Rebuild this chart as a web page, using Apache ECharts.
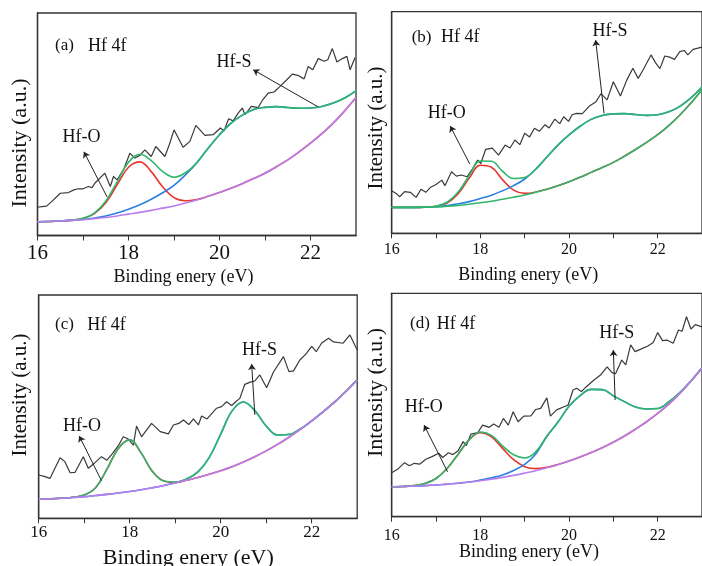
<!DOCTYPE html>
<html>
<head>
<meta charset="utf-8">
<script src="https://cdn.jsdelivr.net/npm/echarts@6/dist/echarts.min.js"></script>
<style>
html, body { margin: 0; padding: 0; background: #fff; }
#main { width: 702px; height: 566px; }
</style>
</head>
<body>
<div id="main"></div>
<script>
var serif = "'Liberation Serif', 'Times New Roman', serif"

// x grid of the fitted curves (eV)
var fitX = [16, 16.25, 16.5, 16.75, 17, 17.25, 17.5, 17.75, 18, 18.25, 18.5, 18.75, 19, 19.25, 19.5,
    19.75, 20, 20.25, 20.5, 20.75, 21, 21.25, 21.5, 21.75, 22, 22.25, 22.5, 22.75, 23]

// (a) background, Hf-O and Hf-S components above background, raw spectrum
var baseA = [6.2, 6.3, 6.5, 6.8, 7.1, 7.6, 8.1, 8.8, 9.6, 10.4, 11.3, 12.3, 13.3, 14.6, 16.0,
    17.6, 19.3, 21.2, 23.3, 25.6, 28, 30.9, 34, 37.6, 41.5, 45.8, 50.5, 56, 62]
var hfoA = [0, 0, 0, 0.1, 0.5, 2.2, 6.6, 14, 21.1, 22.7, 17.4, 9.6, 3.7, 1.0, 0.2,
    0, 0, 0, 0, 0, 0, 0, 0, 0, 0, 0, 0, 0, 0]
var hfsA = [0, 0, 0, 0, 0.1, 0.3, 0.7, 1.3, 2.2, 3.4, 5, 6.9, 9.2, 12.6, 16.6,
    21.6, 26, 29.2, 30.8, 31, 29.6, 27, 23.5, 19.6, 15.8, 12.2, 9, 5.8, 3]
var rawA = [[16.0, 12.7], [16.1, 13], [16.2, 13.2], [16.35, 16], [16.5, 19], [16.68, 19.3], [16.8, 20.5],
    [16.9, 21], [17.0, 21], [17.12, 22], [17.2, 21.5], [17.26, 23.5], [17.48, 28], [17.6, 22], [17.67, 26.5],
    [17.75, 25], [17.9, 30], [18.03, 37], [18.14, 34.8], [18.25, 36], [18.36, 38.5], [18.5, 35.5], [18.6, 40],
    [18.8, 35.5], [18.9, 41], [19.0, 47.5], [19.2, 39.7], [19.35, 42.3], [19.48, 49.5], [19.68, 45],
    [19.86, 45.3], [20.02, 48.3], [20.1, 47], [20.2, 52.5], [20.3, 51.5], [20.41, 55], [20.5, 57.3],
    [20.56, 54.3], [20.7, 58], [20.85, 57.5], [20.95, 61], [21.07, 64], [21.2, 64.5], [21.33, 67],
    [21.48, 70], [21.6, 72.5], [21.72, 72], [21.86, 70.4], [21.95, 76], [22.05, 74.5], [22.17, 79.5],
    [22.3, 78.3], [22.38, 79], [22.48, 84], [22.58, 78], [22.7, 79.5], [22.8, 80.5], [22.87, 74.5], [22.98, 80]]

// (b)
var baseB = [11.7, 11.7, 11.7, 11.8, 11.9, 12.2, 12.6, 13.1, 13.8, 14.5, 15.4, 16.3, 17.3, 18.5, 19.9,
    21.5, 23.3, 25.3, 27.5, 29.7, 32, 34.8, 37.8, 41, 44.5, 48.6, 53.4, 58.8, 64.8]
var hfoB = [0, 0, 0, 0, 0.3, 1.5, 5.3, 11.8, 16.9, 15.3, 8.8, 3.2, 0.7, 0.1, 0,
    0, 0, 0, 0, 0, 0, 0, 0, 0, 0, 0, 0, 0, 0]
var hfsB = [0, 0, 0, 0, 0.1, 0.3, 0.7, 1.2, 1.9, 2.7, 3.8, 5.2, 7.2, 10.4, 14.5,
    18.3, 21.1, 23, 23.9, 23.5, 21.9, 19.2, 15.8, 12.2, 9, 6.2, 3.9, 2.3, 1.2]
var rawB = [[16.0, 19.2], [16.1, 18], [16.18, 16.5], [16.29, 18.8], [16.42, 18.5], [16.55, 16.2], [16.66, 19.9],
    [16.77, 18.5], [16.88, 20.8], [17.0, 22], [17.13, 24], [17.2, 21.5], [17.35, 27.8], [17.46, 25.8],
    [17.57, 26.3], [17.7, 25.5], [17.83, 29.3], [17.94, 33], [18.01, 31.5], [18.12, 37.9], [18.27, 38.4],
    [18.41, 35.3], [18.56, 39.8], [18.67, 38.5], [18.78, 42.1], [18.89, 40], [19.0, 45.1], [19.11, 43.5],
    [19.22, 47.4], [19.33, 46], [19.46, 49], [19.55, 47.5], [19.68, 51.5], [19.79, 49.5], [19.88, 52.6],
    [19.99, 50.5], [20.07, 53.5], [20.17, 54.1], [20.3, 54], [20.46, 57.4], [20.61, 59.4], [20.72, 63],
    [20.86, 60.2], [21.0, 68.4], [21.16, 62], [21.3, 69], [21.44, 74.5], [21.56, 69.9], [21.67, 73.7],
    [21.85, 80.5], [21.95, 77], [22.05, 74.3], [22.16, 80], [22.27, 79.5], [22.38, 78.5], [22.5, 82],
    [22.6, 82.5], [22.68, 80.5], [22.8, 83], [23.0, 84]]

// (c)
var baseC = [8.5, 8.7, 9.0, 9.3, 9.7, 10.2, 10.7, 11.3, 12.0, 12.8, 13.7, 14.7, 15.8, 17.0, 18.3,
    19.7, 21.3, 23.1, 25.2, 27.6, 30.2, 33.1, 36.3, 39.8, 43.6, 47.7, 52.0, 56.8, 62]
var hfoC = [0, 0, 0, 0.1, 0.7, 3.5, 11.3, 20, 23.1, 16.5, 7.3, 2.0, 0.3, 0, 0,
    0, 0, 0, 0, 0, 0, 0, 0, 0, 0, 0, 0, 0, 0]
var hfsC = [0, 0, 0, 0, 0, 0, 0, 0, 0, 0, 0, 0, 0.1, 0.6, 2.5,
    7.6, 16.4, 25, 26.9, 20.6, 11.1, 4.2, 1.2, 0.2, 0, 0, 0, 0, 0]
var rawC = [[16.0, 19.4], [16.12, 18.8], [16.25, 17.9], [16.47, 27.1], [16.57, 25.5], [16.69, 20.4], [16.8, 20.6],
    [16.98, 27.6], [17.09, 22.4], [17.23, 24.8], [17.38, 27.6], [17.5, 26], [17.62, 29], [17.75, 32.5],
    [17.86, 36.5], [17.97, 35.5], [18.08, 32.8], [18.15, 41.3], [18.26, 36.5], [18.48, 42.5], [18.67, 38.8],
    [18.85, 37.8], [18.96, 41.8], [19.08, 42.5], [19.18, 44], [19.3, 42], [19.4, 44.5], [19.51, 41.8],
    [19.58, 45.8], [19.7, 44.5], [19.91, 49.3], [20.02, 50], [20.13, 52.2], [20.24, 50.5], [20.33, 52.2],
    [20.42, 53.7], [20.53, 60], [20.65, 61], [20.75, 61.5], [20.86, 64.2], [21.01, 58.5], [21.16, 65.5],
    [21.38, 72.4], [21.5, 65.7], [21.6, 66], [21.74, 70.9], [21.87, 73.5], [22.0, 77], [22.1, 74.6],
    [22.22, 78.5], [22.37, 80.6], [22.48, 79], [22.69, 78.4], [22.84, 82.1], [23.0, 75.4]]

// (d)
var baseD = [13.4, 13.5, 13.7, 13.9, 14.2, 14.6, 15.0, 15.5, 16.1, 16.8, 17.6, 18.5, 19.5, 20.6, 21.9,
    23.3, 24.9, 26.7, 28.7, 30.9, 33.3, 36.1, 39.2, 42.5, 46.2, 50.4, 55.2, 60.6, 66.6]
var hfoD = [0, 0.05, 0.24, 0.94, 2.9, 7.0, 13.0, 19.0, 21.5, 19.0, 13.0, 7.0, 2.9, 0.94, 0.24,
    0.05, 0, 0, 0, 0, 0, 0, 0, 0, 0, 0, 0, 0, 0]
var hfsD = [0, 0, 0, 0, 0, 0, 0, 0, 0.3, 0.6, 1.1, 2.2, 3.9, 7.5, 14,
    19, 24.5, 27.5, 28.3, 26, 20.8, 15.4, 9.9, 5.7, 2.2, 1.0, 0.4, 0.15, 0.05]
var rawD = [[16.0, 19.7], [16.15, 21.5], [16.29, 24.2], [16.4, 22.8], [16.51, 23.9], [16.63, 23.5], [16.77, 25.7],
    [16.91, 26.9], [17.06, 28.4], [17.15, 26.5], [17.28, 28.6], [17.38, 27.8], [17.5, 29.5], [17.61, 33.6],
    [17.68, 31.8], [17.79, 37], [17.94, 37.6], [18.05, 41], [18.2, 40], [18.3, 41.5], [18.42, 40], [18.52, 44],
    [18.63, 41], [18.74, 47], [18.85, 42.5], [18.98, 45], [19.14, 45.1], [19.25, 48], [19.36, 48.5],
    [19.5, 53.2], [19.58, 45], [19.72, 47.8], [19.86, 49], [19.98, 50], [20.09, 56.7], [20.17, 57.5],
    [20.28, 56], [20.39, 58.2], [20.55, 61], [20.71, 63.4], [20.86, 67.1], [20.97, 64.5], [21.05, 64],
    [21.19, 70.1], [21.28, 68], [21.39, 76.9], [21.49, 73.9], [21.62, 75], [21.77, 76.3], [21.9, 78],
    [22.0, 82.4], [22.11, 78.8], [22.22, 79], [22.35, 77.6], [22.47, 83.6], [22.55, 83], [22.65, 89.5],
    [22.75, 84], [22.85, 86], [23.0, 85]]

// arrows [tail, head] in data coords: Hf-O, Hf-S
var arrowsA = [[[17.53, 17.3], [17.02, 37.6]], [[22.16, 57.9], [20.74, 74.5]]]
var arrowsB = [[[17.76, 31.3], [17.32, 48.4]], [[20.79, 54.1], [20.6, 87.2]]]
var arrowsC = [[[17.38, 16.8], [16.89, 36.9]], [[20.75, 46.3], [20.68, 69.1]]]
var arrowsD = [[[17.26, 20.1], [16.73, 41]], [[21.04, 52.2], [21.0, 74.6]]]

var tickLabels = ['16', '18', '20', '22']

var colors = {
    raw: '#3a3a3a',
    red: '#e8342c',
    blue: '#2b7fe0',
    green: '#2fb66c',
    purple: '#b97ded'
}

var panels = [
    { grid: { left: 37.5, top: 13, width: 318.5, height: 222.5 }, base: baseA, hfo: hfoA, hfs: hfsA, raw: rawA, arrows: arrowsA, baseColor: colors.purple, tickSize: 21, tickMargin: 7 },
    { grid: { left: 391.7, top: 11.7, width: 318.9, height: 221.6 }, base: baseB, hfo: hfoB, hfs: hfsB, raw: rawB, arrows: arrowsB, baseColor: colors.green, tickSize: 16, tickMargin: 8 },
    { grid: { left: 38.7, top: 295, width: 318.5, height: 223.3 }, base: baseC, hfo: hfoC, hfs: hfsC, raw: rawC, arrows: arrowsC, baseColor: colors.purple, tickSize: 17, tickMargin: 6 },
    { grid: { left: 391.7, top: 293.3, width: 319.2, height: 223.4 }, base: baseD, hfo: hfoD, hfs: hfsD, raw: rawD, arrows: arrowsD, baseColor: colors.purple, tickSize: 16, tickMargin: 11 }
]

var fitLine = function(i, name, data, color) {
    return {
        name: name,
        type: 'line',
        xAxisIndex: i,
        yAxisIndex: i,
        data: data,
        smooth: 0.4,
        showSymbol: false,
        lineStyle: { color: color, width: 1.6 }
    }
}

var grids = []
var xAxes = []
var yAxes = []
var series = []

panels.forEach(function(p, i) {
    grids.push(Object.assign({ show: true, borderColor: '#333', borderWidth: 1.3, backgroundColor: 'transparent' }, p.grid))
    xAxes.push({
        gridIndex: i,
        type: 'value',
        min: 16,
        max: 23,
        interval: 1,
        axisLine: { show: true, lineStyle: { color: '#333', width: 1.3 } },
        axisTick: { show: true, inside: false, length: 5, lineStyle: { color: '#333' } },
        splitLine: { show: false },
        axisLabel: {
            fontFamily: serif,
            fontSize: p.tickSize,
            color: '#111',
            margin: p.tickMargin,
            showMaxLabel: false,
            formatter: function(v) {
                var s = String(v)
                return tickLabels.indexOf(s) >= 0 ? s : ''
            }
        }
    })
    yAxes.push({
        gridIndex: i,
        type: 'value',
        min: 0,
        max: 100,
        axisLine: { show: true, lineStyle: { color: '#333', width: 1.3 } },
        axisTick: { show: false },
        axisLabel: { show: false },
        splitLine: { show: false }
    })

    var red = [], blue = [], green = [], base = []
    for (var k = 0; k < fitX.length; k++) {
        base.push([fitX[k], p.base[k]])
        red.push([fitX[k], p.base[k] + p.hfo[k]])
        blue.push([fitX[k], p.base[k] + p.hfs[k]])
        green.push([fitX[k], p.base[k] + p.hfo[k] + p.hfs[k]])
    }

    series.push({
        name: 'raw',
        type: 'line',
        xAxisIndex: i,
        yAxisIndex: i,
        data: p.raw,
        showSymbol: false,
        lineStyle: { color: colors.raw, width: 1.2 },
        markLine: {
            silent: true,
            symbol: ['none', 'arrow'],
            symbolSize: 6,
            label: { show: false },
            lineStyle: { color: '#222', width: 1, type: 'solid' },
            data: p.arrows.map(function(a) {
                return [{ coord: a[0] }, { coord: a[1] }]
            })
        }
    })
    series.push(fitLine(i, 'Hf-O', red, colors.red))
    series.push(fitLine(i, 'Hf-S', blue, colors.blue))
    series.push(fitLine(i, 'envelope', green, colors.green))
    series.push(fitLine(i, 'background', base, p.baseColor))
})

// texts: [text, x, y, size, align, rotated]
var texts = [
    ['(a)', 55, 46, 17, 'left'], ['Hf 4f', 88, 46, 18, 'left'],
    ['Hf-O', 81.5, 137, 18, 'center'], ['Hf-S', 234, 62, 18, 'center'],
    ['Binding enery (eV)', 183.5, 277, 18, 'center'], ['Intensity (a.u.)', 20, 143, 22, 'center', true],

    ['(b)', 411.7, 37.5, 17, 'left'], ['Hf 4f', 441, 37.5, 18, 'left'],
    ['Hf-O', 446.7, 113, 18, 'center'], ['Hf-S', 610, 31.7, 18, 'center'],
    ['Binding enery (eV)', 528.3, 275, 18, 'center'], ['Intensity (a.u.)', 376.7, 128, 21, 'center', true],

    ['(c)', 55, 325, 17, 'left'], ['Hf 4f', 87.3, 325, 18, 'left'],
    ['Hf-O', 82, 426, 18, 'center'], ['Hf-S', 259.5, 350, 18, 'center'],
    ['Binding enery (eV)', 188.3, 558, 22, 'center'], ['Intensity (a.u.)', 20, 395, 21, 'center', true],

    ['(d)', 410, 324, 17, 'left'], ['Hf 4f', 436.7, 324, 18, 'left'],
    ['Hf-O', 423.7, 407, 18, 'center'], ['Hf-S', 616.7, 333, 18, 'center'],
    ['Binding enery (eV)', 529, 552, 18, 'center'], ['Intensity (a.u.)', 376.7, 392.5, 22, 'center', true]
]

var graphic = texts.map(function(t) {
    return {
        type: 'text',
        x: t[1],
        y: t[2],
        rotation: t[5] ? Math.PI / 2 : 0,
        z: 100,
        style: {
            text: t[0],
            fontFamily: serif,
            fontSize: t[3],
            fill: '#111',
            align: t[4],
            verticalAlign: 'middle',
            textAlign: t[4],
            textVerticalAlign: 'middle'
        }
    }
})

var option = {
    animation: false,
    backgroundColor: '#fff',
    grid: grids,
    xAxis: xAxes,
    yAxis: yAxes,
    series: series,
    graphic: graphic
}

echarts.init(document.getElementById('main'), null, { renderer: 'canvas' }).setOption(option)
</script>
</body>
</html>
